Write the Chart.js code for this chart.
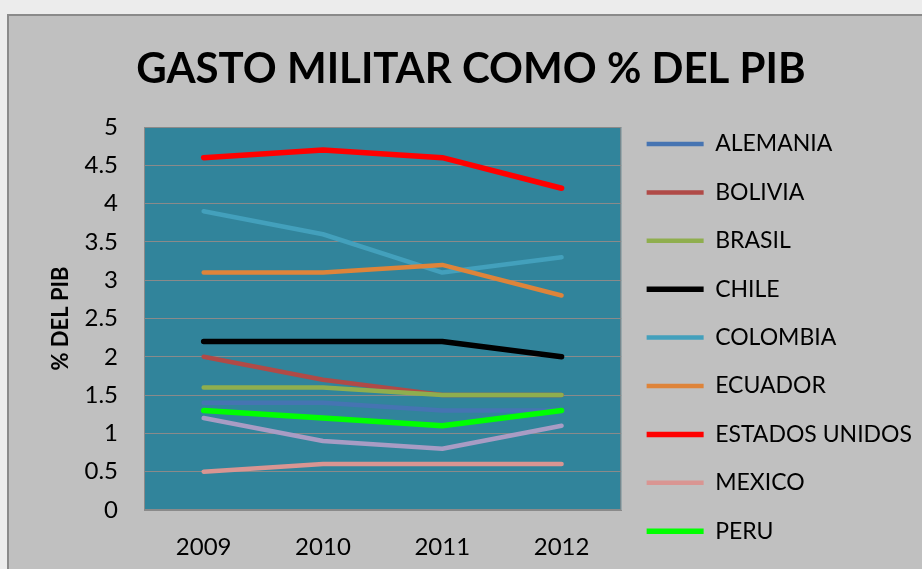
<!DOCTYPE html>
<html>
<head>
<meta charset="utf-8">
<script src="https://cdn.jsdelivr.net/npm/chart.js@4/dist/chart.umd.min.js"></script>
<style>
  html, body { margin: 0; padding: 0; }
  body { width: 922px; height: 569px; overflow: hidden; background: #ececec; position: relative; }
  #frame { position: absolute; left: 7px; top: 14px; width: 940px; height: 600px; background: #c0c0c0; border: 2px solid #8a8a8a; }
  #myChart { position: absolute; left: 0; top: 0; }
</style>
</head>
<body>
<div id="frame"></div>
<canvas id="myChart" width="922" height="569"></canvas>
<script>
const YEARS = ['2009', '2010', '2011', '2012'];
const ALEMANIA = [1.4, 1.4, 1.3, 1.3];
const BOLIVIA = [2.0, 1.7, 1.5, 1.5];
const BRASIL = [1.6, 1.6, 1.5, 1.5];
const CHILE = [2.2, 2.2, 2.2, 2.0];
const COLOMBIA = [3.9, 3.6, 3.1, 3.3];
const ECUADOR = [3.1, 3.1, 3.2, 2.8];
const ESTADOS_UNIDOS = [4.6, 4.7, 4.6, 4.2];
const MEXICO = [0.5, 0.6, 0.6, 0.6];
const PERU = [1.3, 1.2, 1.1, 1.3];
const VENEZUELA = [1.2, 0.9, 0.8, 1.1]; // no aparece en la leyenda (cortada)

const COUNTRIES = ['ALEMANIA', 'BOLIVIA', 'BRASIL', 'CHILE', 'COLOMBIA', 'ECUADOR', 'ESTADOS UNIDOS', 'MEXICO', 'PERU', 'VENEZUELA'];
const VALUES = [ALEMANIA, BOLIVIA, BRASIL, CHILE, COLOMBIA, ECUADOR, ESTADOS_UNIDOS, MEXICO, PERU, VENEZUELA];
const COLORS = ['#4674b2', '#b04a47', '#8fae4e', '#000000', '#43a0bc', '#de843a', '#ff0000', '#d99592', '#00ff00', '#a89cc4'];
const WIDTHS = [4.5, 4.5, 4.5, 5.5, 4.5, 4.5, 5.5, 4.5, 5.5, 4.5];

Chart.defaults.font.family = 'Lato, "Open Sans", sans-serif';
Chart.defaults.color = '#000';

// fondo del area de trazado
const plotBg = {
  id: 'plotBg',
  beforeDraw(chart) {
    const {ctx, chartArea: a} = chart;
    ctx.save();
    ctx.fillStyle = '#31849b';
    ctx.fillRect(a.left, a.top, a.width, a.height);
    ctx.strokeStyle = '#8a8a8a';
    ctx.lineWidth = 1;
    ctx.strokeRect(a.left + 0.5, a.top + 0.5, a.width - 1, a.height - 1);
    ctx.restore();
  }
};

const ctx = document.getElementById('myChart').getContext('2d');

new Chart(ctx, {
  type: 'line',
  data: {
    labels: YEARS,
    datasets: COUNTRIES.map((name, i) => ({
      label: name,
      data: VALUES[i],
      borderColor: COLORS[i],
      backgroundColor: COLORS[i],
      borderWidth: WIDTHS[i],
      borderCapStyle: 'round',
      borderJoinStyle: 'round',
      pointRadius: 0,
      tension: 0,
      order: COUNTRIES.length - i // como Excel: la ultima serie encima
    }))
  },
  options: {
    responsive: false,
    animation: false,
    layout: { padding: { left: 20, right: 0, top: 0, bottom: 0 } },
    plugins: {
      title: {
        display: true,
        text: 'GASTO MILITAR COMO % DEL PIB',
        font: { size: 42, weight: 'bold' },
        padding: { top: 44, bottom: 32.6 }
      },
      legend: {
        position: 'right',
        align: 'start',
        maxWidth: 330,
        title: { display: true, text: '', padding: { top: 92.7, bottom: 0 } }, // empuja la leyenda hacia abajo
        labels: {
          font: { size: 23 },
          padding: 25.4,
          usePointStyle: true,
          pointStyle: 'line',
          pointStyleWidth: 57,
          sort: (a, b) => a.datasetIndex - b.datasetIndex,
          filter: item => item.text !== 'VENEZUELA'
        }
      },
      tooltip: { enabled: false }
    },
    scales: {
      x: {
        offset: true,
        grid: { display: false, drawTicks: false },
        border: { color: '#8a8a8a' },
        ticks: { font: { size: 24 }, padding: 23 },
        afterFit: scale => { scale.height = 59; }
      },
      y: {
        min: 0,
        max: 5,
        grid: { color: '#8a8a8a', drawTicks: false },
        border: { color: '#8a8a8a' },
        ticks: { stepSize: 0.5, font: { size: 24 }, padding: 26, callback: v => String(v) },
        title: { display: true, text: '% DEL PIB', font: { size: 22, weight: 'bold' }, padding: { top: 28, bottom: 10 } },
        afterFit: scale => { scale.width = 124; }
      }
    }
  },
  plugins: [plotBg]
});
</script>
</body>
</html>
